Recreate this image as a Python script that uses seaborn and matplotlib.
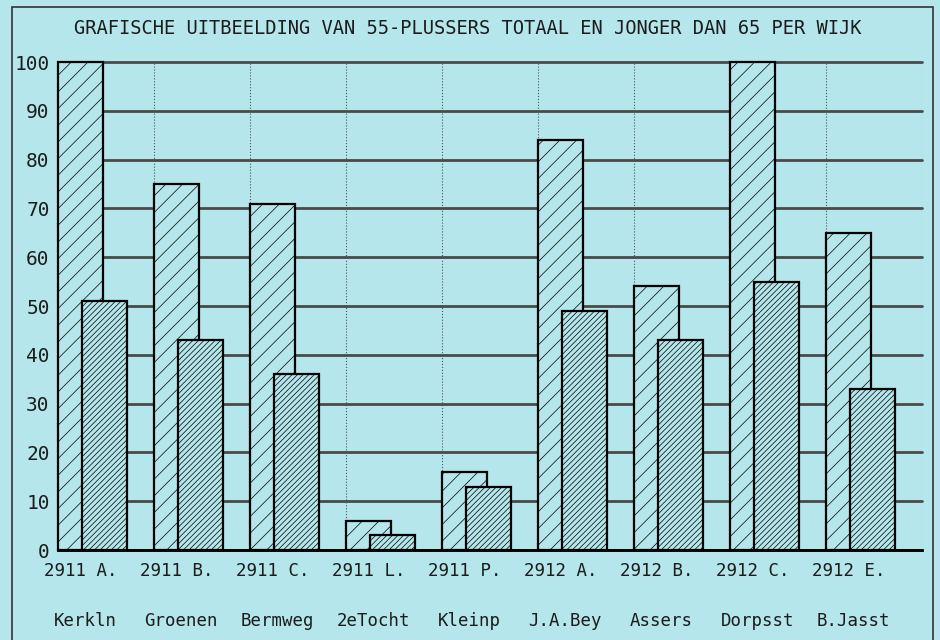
import matplotlib
matplotlib.use("Agg")
import matplotlib.pyplot as plt
from matplotlib.patches import Rectangle
import numpy as np
import pandas as pd
import seaborn as sns

# data
codes = ["2911 A.", "2911 B.", "2911 C.", "2911 L.", "2911 P.",
         "2912 A.", "2912 B.", "2912 C.", "2912 E."]
names = ["Kerkln", "Groenen", "Bermweg", "2eTocht", "Kleinp",
         "J.A.Bey", "Assers", "Dorpsst", "B.Jasst"]
totaal = [100, 75, 71, 6, 16, 84, 54, 100, 65]
jonger_65 = [51, 43, 36, 3, 13, 49, 43, 55, 33]
y_ticks = list(range(0, 101, 10))
title = "GRAFISCHE UITBEELDING VAN 55-PLUSSERS TOTAAL EN JONGER DAN 65 PER WIJK"

bg = "#b4e6eb"
ink = "#1c1c1c"

sns.set_theme(style="white")
plt.rcParams["font.family"] = ["DejaVu Sans Mono", "DejaVu Sans"]
plt.rcParams["hatch.linewidth"] = 0.5
plt.rcParams["hatch.color"] = "black"

df = pd.DataFrame({"wijk": codes, "naam": names,
                   "totaal": totaal, "jonger": jonger_65})

fig = plt.figure(figsize=(9.4, 6.4), dpi=100, facecolor=bg)
ax = fig.add_axes([58 / 940, 1 - 550 / 640, 864 / 940, 488 / 640])
ax.set_facecolor(bg)

bar_w = 0.47
shift = 0.245

# total bars (back), then younger-than-65 bars in front, offset to the right
sns.barplot(data=df, x="wijk", y="totaal", order=codes, width=bar_w,
            color=bg, saturation=1, edgecolor="black", linewidth=1.6,
            hatch="//", ax=ax, zorder=2)
n_back = len(ax.patches)
sns.barplot(data=df, x="wijk", y="jonger", order=codes, width=bar_w,
            color=bg, saturation=1, edgecolor="black", linewidth=1.6,
            hatch="//////", ax=ax, zorder=3)
for p in ax.patches[n_back:]:
    p.set_x(p.get_x() + shift)
for p in ax.patches:
    p.set_clip_on(False)

ax.set_xlim(-bar_w / 2, -bar_w / 2 + len(codes))
ax.set_ylim(0, 100)
ax.set_xticks(np.arange(len(codes)))
ax.set_xticklabels(codes, fontsize=12.5, color=ink)
ax.set_xticks(np.arange(len(codes) + 1) - bar_w / 2, minor=True)
ax.set_yticks(y_ticks)
ax.set_yticklabels([str(v) for v in y_ticks], fontsize=14, color=ink)
ax.tick_params(axis="both", which="both", length=0)
ax.tick_params(axis="x", pad=9)
ax.tick_params(axis="y", pad=6)

ax.set_axisbelow(True)
ax.grid(axis="y", which="major", color="#4a4a4a", linewidth=2)
ax.grid(axis="x", which="minor", color="#555555", linewidth=0.8, linestyle=":")
ax.grid(axis="x", which="major", visible=False)
for line in ax.get_ygridlines():
    line.set_clip_on(False)

for side in ["top", "right", "left"]:
    ax.spines[side].set_visible(False)
ax.spines["bottom"].set_color("black")
ax.spines["bottom"].set_linewidth(2)
ax.set_xlabel("")
ax.set_ylabel("")

# second row of category labels: street names
for i, naam in enumerate(names):
    ax.text(i + 0.05, -0.1455, naam, transform=ax.get_xaxis_transform(),
            ha="center", va="center", fontsize=12.5, color=ink)

fig.text(468 / 940, 1 - 28 / 640, title, ha="center", va="center",
         fontsize=13.5, color=ink)

fig.patches.append(Rectangle((12 / 940, -0.05), 921 / 940, 1 - 7 / 640 + 0.05,
                             transform=fig.transFigure, fill=False,
                             edgecolor="#333333", linewidth=1.2))

fig.savefig("out.png", dpi=100, facecolor=bg)
